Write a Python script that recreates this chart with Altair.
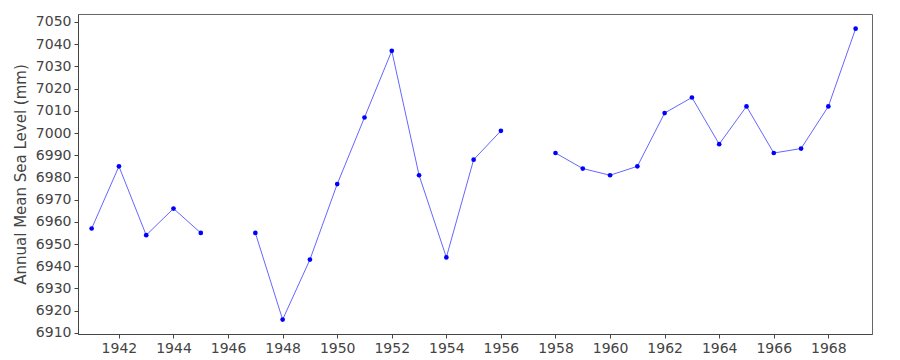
import altair as alt
import pandas as pd

years = [1941, 1942, 1943, 1944, 1945, 1947, 1948, 1949, 1950, 1951, 1952,
         1953, 1954, 1955, 1956, 1958, 1959, 1960, 1961, 1962, 1963, 1964,
         1965, 1966, 1967, 1968, 1969]
levels = [6957, 6985, 6954, 6966, 6955, 6955, 6916, 6943, 6977, 7007, 7037,
          6981, 6944, 6988, 7001, 6991, 6984, 6981, 6985, 7009, 7016, 6995,
          7012, 6991, 6993, 7012, 7047]
segments = [1]*5 + [2]*10 + [3]*12

df = pd.DataFrame({"year": years, "level": levels, "seg": segments})

x = alt.X("year:Q", title=None,
          scale=alt.Scale(domain=[1940.5, 1969.6], nice=False, zero=False),
          axis=alt.Axis(values=list(range(1942, 1970, 2)), format="d", grid=False,
                        labelFontSize=14, labelColor="#444", tickSize=4,
                        tickColor="#444", domainColor="#444", labelPadding=3,
                        labelFont="DejaVu Sans"))
y = alt.Y("level:Q", title="Annual Mean Sea Level (mm)",
          scale=alt.Scale(domain=[6909.5, 7053.6], nice=False, zero=False),
          axis=alt.Axis(values=list(range(6910, 7060, 10)), format="d", grid=False,
                        labelFontSize=14, labelColor="#444", tickSize=4,
                        tickColor="#444", domainColor="#444", labelPadding=3,
                        titleFontSize=15, titleFontWeight="normal", titleColor="#444",
                        labelFont="DejaVu Sans", titleFont="DejaVu Sans", titlePadding=7))

line = alt.Chart(df).mark_line(color="#6666ff", strokeWidth=1).encode(x=x, y=y, detail="seg:N")
pts = alt.Chart(df).mark_circle(color="#0000ff", size=22, opacity=1).encode(x=x, y=y)

chart = (line + pts).properties(
    width=794, height=320,
    autosize=alt.AutoSizeParams(type="none"),
    padding={"left": 78, "top": 14, "right": 28, "bottom": 26},
).configure_view(stroke="#666", strokeWidth=1)

chart.save("out.html", embed_options={"renderer": "svg", "actions": False})
